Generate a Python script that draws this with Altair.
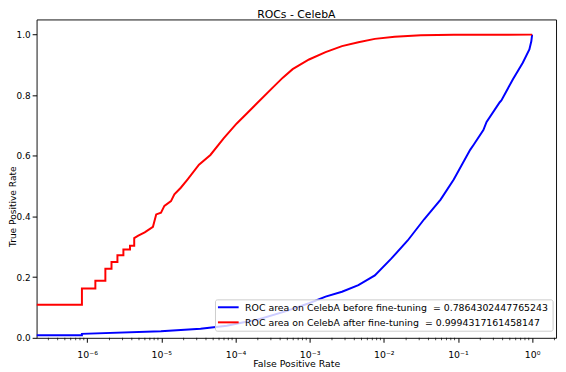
import altair as alt
import pandas as pd

# ---------------- data ----------------
title_text = "ROCs - CelebA"
x_title = "False Positive Rate"
y_title = "True Positive Rate"
legend_labels = [
    "ROC area on CelebA before fine-tuning \u00a0= 0.7864302447765243",
    "ROC area on CelebA after fine-tuning \u00a0= 0.9994317161458147",
]
line_colors = ["#0000ff", "#ff0000"]

x_tick_values = [1e-6, 1e-5, 1e-4, 1e-3, 1e-2, 1e-1, 1.0]
x_tick_labels = ["10⁻⁶", "10⁻⁵", "10⁻⁴", "10⁻³", "10⁻²", "10⁻¹", "10⁰"]
x_minor_ticks = [
    3e-7, 4e-7, 5e-7, 6e-7, 7e-7, 8e-7, 9e-7,
    2e-6, 3e-6, 4e-6, 5e-6, 6e-6, 7e-6, 8e-6, 9e-6,
    2e-5, 3e-5, 4e-5, 5e-5, 6e-5, 7e-5, 8e-5, 9e-5,
    2e-4, 3e-4, 4e-4, 5e-4, 6e-4, 7e-4, 8e-4, 9e-4,
    2e-3, 3e-3, 4e-3, 5e-3, 6e-3, 7e-3, 8e-3, 9e-3,
    2e-2, 3e-2, 4e-2, 5e-2, 6e-2, 7e-2, 8e-2, 9e-2,
    0.2, 0.3, 0.4, 0.5, 0.6, 0.7, 0.8, 0.9,
    2.0,
]
y_tick_values = [0.0, 0.2, 0.4, 0.6, 0.8, 1.0]
x_domain = [2.08e-7, 2.1]
y_domain = [0.0, 1.05]

# before fine-tuning (blue)
fpr_before = [2.08e-7, 8.5e-7, 8.5e-7, 9.9e-6, 3.38e-5, 7.66e-5, 1.15e-4, 1.92e-4,
              4.81e-4, 9.82e-4, 1.64e-3, 2.73e-3, 4.54e-3, 7.57e-3, 1.26e-2, 2.10e-2,
              3.50e-2, 5.83e-2, 8.77e-2, 0.146, 0.162, 0.220, 0.243, 0.366, 0.385,
              0.551, 0.748, 0.918, 0.975, 1.0]
tpr_before = [0.0087, 0.0087, 0.013, 0.022, 0.030, 0.040, 0.049, 0.059,
              0.088, 0.114, 0.136, 0.152, 0.174, 0.206, 0.261, 0.321,
              0.391, 0.456, 0.522, 0.620, 0.636, 0.685, 0.712, 0.777, 0.783,
              0.853, 0.907, 0.951, 0.978, 1.0]

# after fine-tuning (red)
fpr_after = [2.08e-7, 8.5e-7, 8.5e-7, 1.29e-6, 1.29e-6, 1.76e-6, 1.76e-6, 2.13e-6,
             2.13e-6, 2.56e-6, 2.56e-6, 3.08e-6, 3.08e-6, 3.78e-6, 3.78e-6, 4.31e-6,
             4.31e-6, 4.89e-6, 5.97e-6, 7.71e-6, 8.53e-6, 9.9e-6, 1.10e-5, 1.35e-5,
             1.50e-5, 1.83e-5, 2.25e-5, 3.22e-5, 4.59e-5, 6.92e-5, 1.04e-4, 1.41e-4,
             1.92e-4, 3.20e-4, 4.35e-4, 5.90e-4, 9.82e-4, 1.64e-3, 2.73e-3, 4.54e-3,
             7.57e-3, 1.40e-2, 3.16e-2, 8.8e-2, 1.0]
tpr_after = [0.109, 0.109, 0.163, 0.163, 0.188, 0.188, 0.228, 0.228,
             0.250, 0.250, 0.272, 0.272, 0.291, 0.291, 0.304, 0.304,
             0.329, 0.337, 0.348, 0.366, 0.407, 0.413, 0.435, 0.451,
             0.473, 0.495, 0.522, 0.571, 0.603, 0.658, 0.707, 0.739,
             0.772, 0.826, 0.858, 0.886, 0.918, 0.942, 0.962, 0.975,
             0.986, 0.993, 0.998, 0.9995, 1.0]

# ---------------- chart ----------------
W, H = 527, 323
FONT = "DejaVu Sans"

df_before = pd.DataFrame({"fpr": fpr_before, "tpr": tpr_before, "idx": range(len(fpr_before))})
df_after = pd.DataFrame({"fpr": fpr_after, "tpr": tpr_after, "idx": range(len(fpr_after))})
df_minor = pd.DataFrame({"fpr": x_minor_ticks})

label_expr = "[" + ",".join(f"'{t}'" for t in x_tick_labels) + "][round(log(datum.value)/LN10)+6]"

x_enc = alt.X(
    "fpr:Q",
    scale=alt.Scale(type="log", domain=x_domain, nice=False),
    axis=alt.Axis(
        title=x_title, values=x_tick_values, labelExpr=label_expr,
        grid=False, domain=False, tickSize=4.5, tickColor="#000", tickWidth=1,
        labelPadding=7, labelFontSize=9.5, labelFont=FONT, labelColor="#000",
        titleFont=FONT, titleFontSize=9.5, titleFontWeight="normal", titleColor="#000",
        titleBaseline="top", titleY=21.5, titlePadding=0,
    ),
)
y_enc = alt.Y(
    "tpr:Q",
    scale=alt.Scale(domain=y_domain, nice=False, zero=False),
    axis=alt.Axis(
        title=y_title, values=y_tick_values, format=".1f",
        grid=False, domain=False, tickSize=4.5, tickColor="#000", tickWidth=1,
        labelPadding=2, labelFontSize=9, labelFont=FONT, labelColor="#000",
        titleFont=FONT, titleFontSize=9.2, titleFontWeight="normal", titleColor="#000",
        titleX=-19.5, titleY=189.5, titleAngle=270, titleBaseline="bottom", titleAlign="center",
    ),
)

blue = alt.Chart(df_before).mark_line(color=line_colors[0], strokeWidth=2, clip=True).encode(
    x=x_enc, y=y_enc, order=alt.Order("idx:Q")
)
red = alt.Chart(df_after).mark_line(color=line_colors[1], strokeWidth=2, clip=True).encode(
    x="fpr:Q", y="tpr:Q", order=alt.Order("idx:Q")
)
minor = alt.Chart(df_minor).mark_tick(
    orient="vertical", size=2.4, thickness=1, color="#000", clip=False
).encode(x="fpr:Q", y=alt.value(H + 1.2))

one = alt.Data(values=[{"k": 0}])

title_mark = alt.Chart(one).mark_text(
    align="center", baseline="alphabetic", font=FONT, fontSize=11, color="#000"
).encode(x=alt.value(W / 2), y=alt.value(-1.5), text=alt.value(title_text))

legend_box = alt.Chart(one).mark_rect(
    fill="white", fillOpacity=0.8, stroke="#cccccc", strokeWidth=1, cornerRadius=2
).encode(x=alt.value(181.5), x2=alt.value(524), y=alt.value(284.5), y2=alt.value(316.3))

legend_layers = []
row_y = [292, 307.3]
for i in range(2):
    legend_layers.append(
        alt.Chart(one).mark_rule(color=line_colors[i], strokeWidth=2).encode(
            x=alt.value(184), x2=alt.value(205), y=alt.value(row_y[i])
        )
    )
    legend_layers.append(
        alt.Chart(one).mark_text(
            align="left", baseline="middle", font=FONT, fontSize=9.5, color="#000"
        ).encode(x=alt.value(211.5), y=alt.value(row_y[i] + 0.5), text=alt.value(legend_labels[i]))
    )

chart = alt.layer(blue, red, minor, title_mark, legend_box, *legend_layers).properties(
    width=W,
    height=H,
    padding={"left": 29, "top": 9, "right": 2, "bottom": 28},
    autosize=alt.AutoSizeParams(type="none"),
).configure_view(stroke="#111", strokeWidth=1)

chart.save("out.html", embed_options={"renderer": "svg", "actions": False})
